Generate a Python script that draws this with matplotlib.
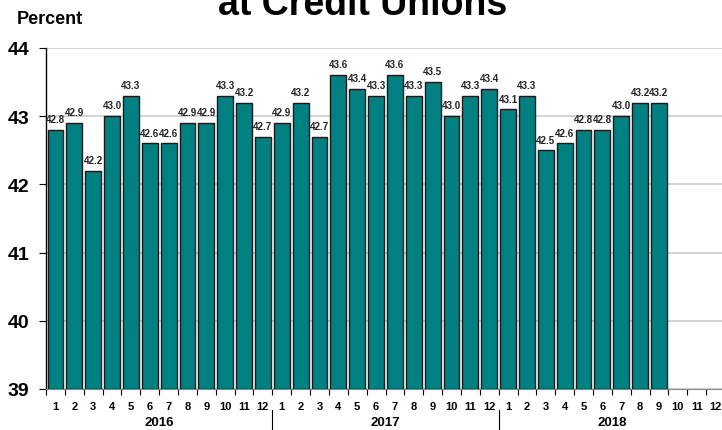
import numpy as np
import matplotlib.pyplot as plt

plt.rcParams['font.family'] = ['Liberation Sans', 'DejaVu Sans']

years = ["2016", "2017", "2018"]
months = [str(m) for m in range(1, 13)]
values_2016 = [42.8, 42.9, 42.2, 43.0, 43.3, 42.6, 42.6, 42.9, 42.9, 43.3, 43.2, 42.7]
values_2017 = [42.9, 43.2, 42.7, 43.6, 43.4, 43.3, 43.6, 43.3, 43.5, 43.0, 43.3, 43.4]
values_2018 = [43.1, 43.3, 42.5, 42.6, 42.8, 42.8, 43.0, 43.2, 43.2]
y_ticks = [39, 40, 41, 42, 43, 44]

values = values_2016 + values_2017 + values_2018
n_slots = 12 * len(years)
x = np.arange(len(values))

fig = plt.figure(figsize=(7.22, 4.31), dpi=100)
# plot area runs a little past the right edge, like the reference
ax = fig.add_axes([46 / 722, 1 - 390 / 431, 679 / 722, 341 / 431])

ax.bar(x, [v - 39 for v in values], bottom=39, width=0.84,
       color='#008080', edgecolor='#1a1a1a', linewidth=1.0, zorder=3)
for xi, v in zip(x, values):
    ax.text(xi, v + 0.085, f"{v:.1f}", ha='center', va='bottom',
            fontsize=7, fontweight='bold', color='#222222', zorder=4)

ax.set_xlim(-0.5, n_slots - 0.5)
ax.set_ylim(39, 44)
ax.set_yticks(y_ticks)
ax.set_yticklabels([str(t) for t in y_ticks], fontsize=14, fontweight='bold')
ax.yaxis.grid(True, color='#cccccc', linewidth=1.2, zorder=0)
ax.tick_params(axis='y', length=5, width=0.8, pad=7)

# ticks at slot boundaries, month labels in between
ax.set_xticks(np.arange(n_slots + 1) - 0.5)
ax.set_xticklabels([])
ax.set_xticks(np.arange(n_slots), minor=True)
ax.set_xticklabels(months * len(years), minor=True, fontsize=8, fontweight='bold')
ax.tick_params(axis='x', which='major', length=4, width=0.8)
ax.tick_params(axis='x', which='minor', length=0, pad=8.5)

for s in ['top', 'right']:
    ax.spines[s].set_visible(False)
ax.spines['left'].set_linewidth(1.0)
ax.spines['bottom'].set_color('#888888')

# year labels and separators
trans = ax.get_xaxis_transform()
for i, yr in enumerate(years):
    ax.text(i * 12 + 5.5, -0.097, yr, transform=trans, ha='center', va='center',
            fontsize=9.5, fontweight='bold')
    if i > 0:
        ax.plot([i * 12 - 0.5] * 2, [-0.063, -0.13], transform=trans,
                color='black', linewidth=0.8, clip_on=False)

fig.text(17 / 722, 1 - 19 / 431, "Percent", ha='left', va='center',
         fontsize=13, fontweight='bold')
# title is cut off by the top edge in the reference
fig.text(363 / 722, 1 - 15 / 431, "at Credit Unions", ha='center', va='baseline',
         fontsize=27, fontweight='bold')

fig.savefig("out.png", dpi=100)
